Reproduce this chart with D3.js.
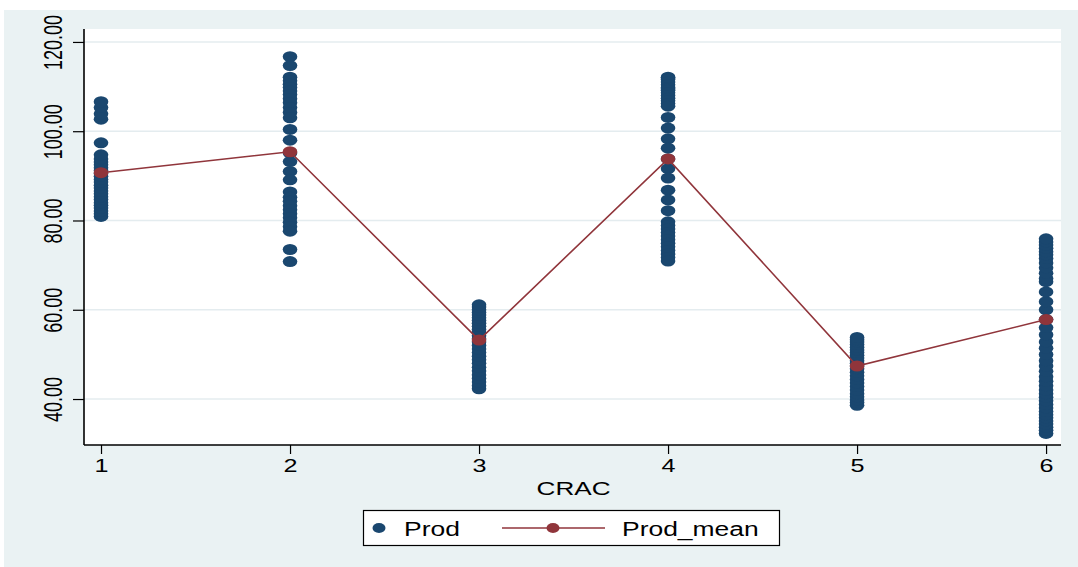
<!DOCTYPE html>
<html>
<head>
<meta charset="utf-8">
<script src="https://cdn.jsdelivr.net/npm/d3@7"></script>
<style>
  html, body { margin: 0; padding: 0; background: #ffffff; }
  svg { display: block; }
  text { font-family: "Liberation Sans", Arial, sans-serif; fill: #000; }
</style>
</head>
<body>
<svg id="chart" width="1078" height="567"></svg>
<script>
// Productivity observations by CRAC group
const cracGroups = [1, 2, 3, 4, 5, 6];

const prodCrac1 = [80.9, 81.5, 82.1, 82.8, 83.4, 84.0, 84.7, 85.3, 86.0, 86.6, 87.3, 87.9,
  88.6, 89.2, 89.9, 90.5, 91.2, 91.8, 92.5, 93.1, 93.8, 94.7, 97.4, 102.7, 103.9, 105.3, 106.6];
const prodCrac2 = [116.7, 114.7, 112.1, 111.3, 110.5, 109.8, 109.0, 108.2, 107.3, 106.4, 105.3,
  104.2, 103.0, 100.4, 98.0, 95.1, 93.2, 91.0, 89.1, 86.4, 85.2, 84.3, 83.3, 82.4, 81.5, 80.6,
  79.6, 78.6, 77.6, 73.5, 70.8];
const prodCrac3 = [42.3, 43.0, 43.8, 44.6, 45.4, 46.3, 47.1, 48.0, 48.8, 49.6, 50.4, 51.2, 52.0,
  52.8, 53.5, 54.2, 54.9, 55.6, 56.3, 57.0, 57.6, 58.2, 58.8, 59.4, 60.0, 60.6, 61.1];
const prodCrac4 = [112.1, 111.9, 111.6, 111.0, 110.4, 109.8, 109.5, 109.2, 108.6, 108.0, 107.4,
  106.8, 106.2, 105.6, 103.1, 100.7, 98.3, 96.2, 93.8, 91.6, 89.5, 86.8, 84.6, 82.2, 79.7, 78.9,
  78.1, 77.3, 76.5, 75.7, 74.9, 74.1, 73.3, 72.5, 71.7, 70.9];
const prodCrac5 = [38.6, 39.2, 39.8, 40.5, 41.2, 42.0, 42.8, 43.6, 44.4, 45.2, 46.0, 46.8, 47.4,
  48.0, 48.6, 49.2, 49.8, 50.4, 51.0, 51.6, 52.2, 52.8, 53.3, 53.8];
const prodCrac6 = [32.3, 33.0, 33.7, 34.4, 35.1, 35.8, 36.5, 37.2, 38.0, 38.8, 39.6, 40.4, 41.2,
  42.0, 43.0, 44.0, 45.0, 46.2, 47.4, 48.6, 50.0, 51.4, 52.8, 54.4, 56.0, 57.8, 60.0, 61.8, 64.0,
  66.3, 67.0, 68.2, 69.4, 70.5, 71.5, 72.3, 73.0, 73.8, 74.5, 75.2, 75.9];

// Group means (Prod_mean)
const prodMean = [90.7, 95.4, 53.2, 93.8, 47.4, 57.8];

// Axis ticks
const yTicks = [40, 60, 80, 100, 120];
const xTicks = [1, 2, 3, 4, 5, 6];

const prodByGroup = [prodCrac1, prodCrac2, prodCrac3, prodCrac4, prodCrac5, prodCrac6];

const navy = "#1a476f";
const maroon = "#90353b";

const svg = d3.select("#chart");

// graph region
svg.append("rect").attr("x", 4).attr("y", 10).attr("width", 1074).attr("height", 557)
  .attr("fill", "#eaf2f3");

const plot = { left: 84, right: 1061, top: 29, bottom: 445 };

svg.append("rect")
  .attr("x", plot.left).attr("y", plot.top)
  .attr("width", plot.right - plot.left).attr("height", plot.bottom - plot.top)
  .attr("fill", "#ffffff");

const x = d3.scaleLinear().domain([0.91, 6.079]).range([plot.left, plot.right]);
const y = d3.scaleLinear().domain([29.7, 122.9]).range([plot.bottom, plot.top]);

// grid lines
svg.append("g").selectAll("line").data(yTicks).join("line")
  .attr("x1", plot.left).attr("x2", plot.right)
  .attr("y1", d => y(d)).attr("y2", d => y(d))
  .attr("stroke", "#e4ecef").attr("stroke-width", 1.6);

// y axis
const yAxis = svg.append("g").attr("transform", `translate(${plot.left},0)`)
  .call(d3.axisLeft(y).tickValues(yTicks).tickSize(11).tickFormat(d3.format(".2f")));
yAxis.select(".domain").attr("d", `M0,${plot.top}V${plot.bottom}`)
  .attr("stroke", "#000").attr("stroke-width", 1.6);
yAxis.selectAll(".tick line").attr("stroke", "#000").attr("stroke-width", 1.2);
yAxis.selectAll(".tick text")
  .attr("x", null).attr("dy", null)
  .attr("transform", "translate(-22,0) scale(1.4,1) rotate(-90)")
  .attr("text-anchor", "middle")
  .style("font-size", "18px")
  .style("font-family", "'Liberation Sans', Arial, sans-serif")
  .attr("fill", "#000");

// x axis
const xAxis = svg.append("g").attr("transform", `translate(0,${plot.bottom})`)
  .call(d3.axisBottom(x).tickValues(xTicks).tickSize(9).tickFormat(d3.format("d")));
xAxis.select(".domain").attr("d", `M${plot.left},0H${plot.right}`)
  .attr("stroke", "#000").attr("stroke-width", 1.6);
xAxis.selectAll(".tick line").attr("stroke", "#000").attr("stroke-width", 1.2);
xAxis.selectAll(".tick text")
  .attr("y", null).attr("dy", null)
  .attr("transform", "translate(0,27) scale(1.4,1)")
  .attr("text-anchor", "middle")
  .style("font-size", "18px")
  .style("font-family", "'Liberation Sans', Arial, sans-serif")
  .attr("fill", "#000");

svg.append("text")
  .attr("transform", `translate(${(x(3) + x(4)) / 2},495) scale(1.45,1)`)
  .attr("text-anchor", "middle")
  .style("font-size", "18px")
  .text("CRAC");

// Prod scatter
const points = [];
prodByGroup.forEach((vals, i) => vals.forEach(v => points.push({ g: cracGroups[i], v })));

svg.append("g").selectAll("ellipse").data(points).join("ellipse")
  .attr("cx", d => x(d.g)).attr("cy", d => y(d.v))
  .attr("rx", 7.3).attr("ry", 5.5)
  .attr("fill", navy);

// Prod_mean connected line
const meanData = cracGroups.map((g, i) => ({ g, v: prodMean[i] }));
svg.append("path").datum(meanData)
  .attr("d", d3.line().x(d => x(d.g)).y(d => y(d.v)))
  .attr("fill", "none").attr("stroke", maroon).attr("stroke-width", 1.6);
svg.append("g").selectAll("ellipse").data(meanData).join("ellipse")
  .attr("cx", d => x(d.g)).attr("cy", d => y(d.v))
  .attr("rx", 7.3).attr("ry", 5.5)
  .attr("fill", maroon);

// legend
const lg = svg.append("g");
lg.append("rect").attr("x", 363.5).attr("y", 510.5).attr("width", 416).attr("height", 35)
  .attr("fill", "#fff").attr("stroke", "#000").attr("stroke-width", 1.2);
lg.append("ellipse").attr("cx", 379).attr("cy", 528).attr("rx", 6.5).attr("ry", 5)
  .attr("fill", navy);
lg.append("text").attr("transform", "translate(404,535.5) scale(1.26,1)")
  .style("font-size", "21px").text("Prod");
lg.append("line").attr("x1", 502).attr("x2", 605).attr("y1", 528).attr("y2", 528)
  .attr("stroke", maroon).attr("stroke-width", 1.6);
lg.append("ellipse").attr("cx", 553).attr("cy", 528).attr("rx", 6.5).attr("ry", 5)
  .attr("fill", maroon);
lg.append("text").attr("transform", "translate(622,535.5) scale(1.26,1)")
  .style("font-size", "21px").text("Prod_mean");
</script>
</body>
</html>
